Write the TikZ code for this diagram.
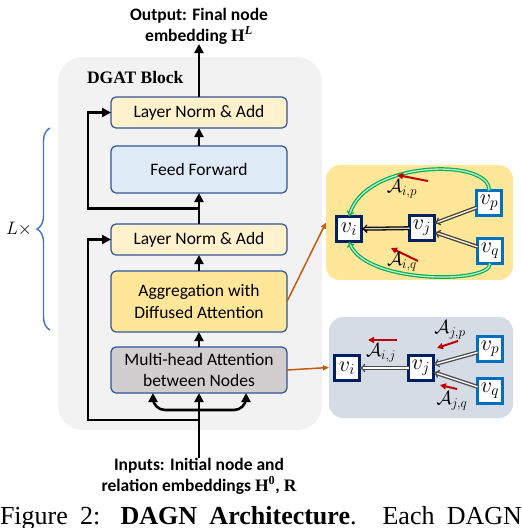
\RequirePackage{fix-cm}
\documentclass[tikz,border=0pt]{standalone}
\usepackage[no-math]{fontspec}
\setmainfont{Carlito}
\newfontfamily\capfont{Liberation Serif}
\usepackage{bm}
\usetikzlibrary{positioning,calc,fit
  ,arrows.meta
  ,decorations.pathreplacing}
\definecolor{blockgray}{RGB}{242,242,242}
\definecolor{boxblue}{RGB}{47,85,151}
\definecolor{lnfill}{RGB}{255,242,204}
\definecolor{fffill}{RGB}{222,235,247}
\definecolor{aggfill}{RGB}{255,230,153}
\definecolor{mhfill}{RGB}{208,206,206}
\definecolor{panelgray}{RGB}{214,220,229}
\definecolor{nodenavy}{RGB}{0,32,96}
\definecolor{nodeblue}{RGB}{0,112,192}
\definecolor{arrowgreen}{RGB}{0,176,80}
\definecolor{arrowred}{RGB}{192,0,0}
\definecolor{linkorange}{RGB}{197,90,17}
\definecolor{braceblue}{RGB}{68,114,196}
\pgfdeclarelayer{background}
\pgfsetlayers{background,main}
\newcommand\boldH{{\capfont\bfseries H}}
\tikzset{
  dagnpic/.style={
    x=1pt,y=-1pt
    ,inner sep=0pt
    ,outer sep=0pt
  }
  ,dgatblock/.style={fill=blockgray,rounded corners=25pt,inner sep=0pt}
  ,blocktitle/.style={anchor=west,font={\fontsize{17.5}{20}\selectfont}}
  ,layerbox/.style={
    draw=boxblue, line width=1.2pt,
    rounded corners=5pt,
    minimum width=176pt,
    align=center,
    font={\fontsize{17.5}{21.5}\selectfont}
  }
  ,lnbox/.style={layerbox,fill=lnfill,minimum height=31pt}
  ,ffbox/.style={layerbox,fill=fffill,minimum height=47pt}
  ,aggbox/.style={layerbox,fill=aggfill,minimum height=61pt}
  ,mhbox/.style={layerbox,fill=mhfill,minimum height=46pt}
  ,iotext/.style={align=center,font={\bfseries\fontsize{17.5}{21}\selectfont}}
  ,flow/.style={line width=2.6pt,-{Triangle[length=9pt,width=9pt]}}
  ,brace/.style={decorate,decoration={brace,amplitude=13pt},draw=braceblue,line width=1.4pt}
  ,graphpanel/.style={rounded corners=14pt}
  ,gnode/.style={draw,line width=3pt,fill=white,minimum size=25pt,
    font={\fontsize{22}{22}\selectfont}}
  ,innernode/.style={gnode,draw=nodenavy}
  ,outernode/.style={gnode,draw=nodeblue}
  ,msg/.style={double distance=1.4pt,line width=1.3pt,-{Implies[scale=1.1]}}
  ,greenarc/.style={draw=arrowgreen,double=arrowgreen!25,double distance=1.3pt,line width=1.2pt,-{Implies}}
  ,attn/.style={draw=arrowred,line width=2pt,-{Triangle[length=6pt,width=6pt]}}
  ,attlabel/.style={font={\fontsize{19}{19}\selectfont}}
  ,link/.style={draw=linkorange,line width=1.5pt,-{Triangle[length=6pt,width=5pt]}}
}

\begin{document}
\begin{tikzpicture}[dagnpic]
  \useasboundingbox (0,0) rectangle (522,528);
  % layer stack
  \node[lnbox] (lnout) at (199,112.5) {Layer Norm \& Add};
  \node[ffbox,below=18pt of lnout] (ff) {Feed Forward};
  \node[lnbox,below=31pt of ff] (lnmid) {Layer Norm \& Add};
  \node[aggbox,below=16pt of lnmid] (agg) {Aggregation with\\Diffused Attention};
  \node[mhbox,below=15pt of agg] (mh) {Multi-head Attention\\between Nodes};
  \coordinate (blocktl) at (58,57);
  \coordinate (blockbr) at (322,430);
  \begin{pgfonlayer}{background}
    \node[dgatblock,fit=(blocktl) (blockbr)] (block) {};
  \end{pgfonlayer}
  \node[blocktitle] (blockname) at (87,78) {\capfont\bfseries DGAT Block};
  % in and out
  \node[iotext,anchor=south] (out) at (199,44) {Output: Final node\\embedding \boldH\textsuperscript{\capfont\bfseries\itshape L}};
  \node[iotext,anchor=north] (in) at (199,458) {Inputs: Initial node and\\relation embeddings \boldH\textsuperscript{\capfont\bfseries 0}, {\capfont\bfseries R}};
  \draw[flow] (in.north) -- (mh.south);
  \draw[flow] (mh.north) -- (agg.south);
  \draw[flow] (agg.north) -- (lnmid.south);
  \draw[flow] (lnmid.north) -- (ff.south);
  \draw[flow] (ff.north) -- (lnout.south);
  \draw[flow] (lnout.north) -- (out.south);
  % residual paths
  \coordinate (skipa) at ($(ff.south)!0.5!(lnmid.north)$);
  \coordinate (skipb) at (199,420);
  \draw[flow] (skipa) -| ($(lnout.west)+(-23,0)$) -- (lnout.west);
  \draw[flow] (skipb) -| ($(lnmid.west)+(-23,0)$) -- (lnmid.west);
  \coordinate (fork) at (199,410);
  \draw[flow,rounded corners=12pt] (fork) -| ($(mh.south)+(-46,0)$);
  \draw[flow,rounded corners=12pt] (fork) -| ($(mh.south)+(47,0)$);
  % repeat brace
  \draw[brace] (50,330) -- (50,128);
  \node (lrep) at (19,229) {\fontsize{18}{18}\selectfont$L\times$};
  % diffused attention view
  \node[graphpanel,fill=aggfill,minimum width=187pt,minimum height=115pt] (aggview) at (419.5,222.5) {};
  \node[innernode] (avi) at (349,229) {$v_i$};
  \node[innernode] (avj) at (422,228) {$v_j$};
  \node[outernode] (avp) at (489,203) {$v_p$};
  \node[outernode] (avq) at (490,251) {$v_q$};
  \draw[msg,double=aggfill!60!black!40] (avj) -- (avi);
  \draw[msg,draw=black!75,double=aggfill!50] (avp) -- (avj);
  \draw[msg,draw=black!75,double=aggfill!50] (avq) -- (avj);
  \draw[greenarc] (avp.north) .. controls (491,158) and (366,160) .. (avi.north);
  \draw[greenarc] (avq.south) .. controls (491,284) and (366,284) .. (avi.south);
  \draw[attn] (428,181) -- (397,175);
  \node[attlabel] (aip) at (402,189) {$\mathcal{A}_{i,p}$};
  \draw[attn] (418,261) -- (391,248);
  \node[attlabel] (aiq) at (402,262) {$\mathcal{A}_{i,q}$};
  % multi-head attention view
  \node[graphpanel,fill=panelgray,minimum width=184pt,minimum height=101pt] (mhview) at (421,367.5) {};
  \node[innernode] (mvi) at (347,368) {$v_i$};
  \node[innernode] (mvj) at (421,368) {$v_j$};
  \node[outernode] (mvp) at (490,349) {$v_p$};
  \node[outernode] (mvq) at (490,391) {$v_q$};
  \draw[msg,draw=black!70,double=white] (mvj) -- (mvi);
  \draw[msg,draw=black!70,double=white] (mvp) -- (mvj);
  \draw[msg,draw=black!70,double=white] (mvq) -- (mvj);
  \draw[attn] (397,340) -- (368,340);
  \node[attlabel] (aij) at (381,353) {$\mathcal{A}_{i,j}$};
  \draw[attn] (458,341) -- (437,348);
  \node[attlabel] (ajp) at (450,330) {$\mathcal{A}_{j,p}$};
  \draw[attn] (457,389) -- (440,385);
  \node[attlabel] (ajq) at (452,401) {$\mathcal{A}_{j,q}$};
  % links to views
  \draw[link] (agg.east) -- (aggview.west);
  \draw[link] (mh.east) -- (mhview.west);
  % caption
  \node[anchor=base west] (caption) at (0,524) {\capfont\fontsize{26}{26}\selectfont\makebox[522pt][s]{Figure 2: \textbf{DAGN Architecture}. Each DAGN}};
\end{tikzpicture}
\end{document}
